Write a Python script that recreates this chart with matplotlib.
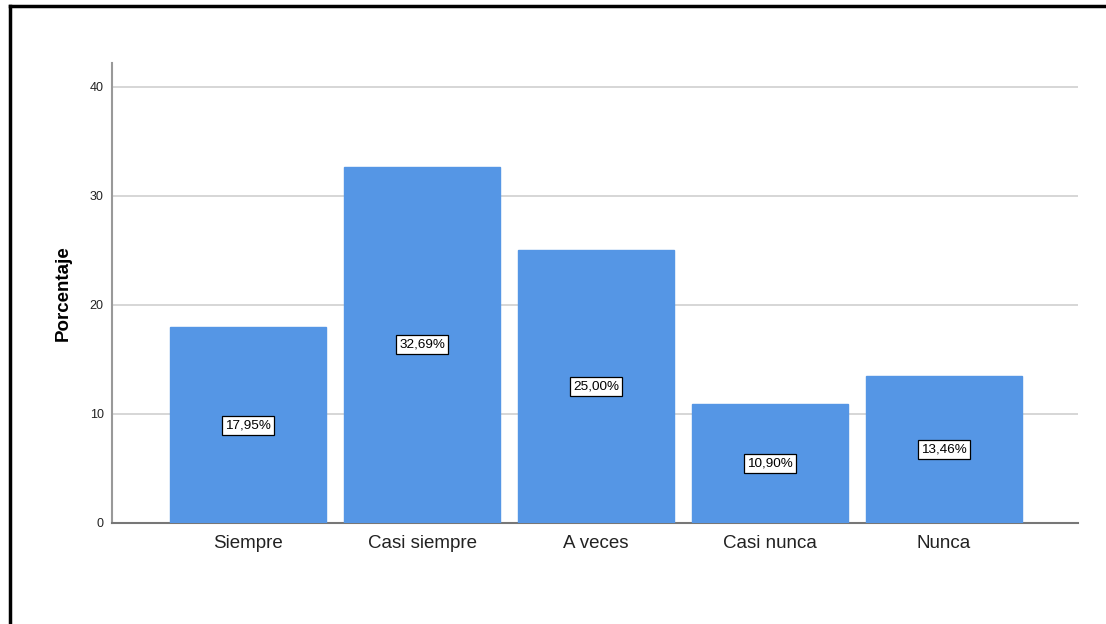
import matplotlib.pyplot as plt
from matplotlib.lines import Line2D

categories = ['Siempre', 'Casi siempre', 'A veces', 'Casi nunca', 'Nunca']
percentages = [17.95, 32.69, 25.00, 10.90, 13.46]
y_ticks = [0, 10, 20, 30, 40]

plt.rcParams['font.family'] = ['Liberation Sans', 'DejaVu Sans']

fig = plt.figure(figsize=(11.06, 6.24), dpi=100)
ax = fig.add_axes([0.1013, 0.1619, 0.8734, 0.7372])

x = range(len(categories))
ax.bar(x, percentages, width=0.897, color='#5596e5', edgecolor='#5596e5', zorder=3)

# value labels in the middle of each bar
for xi, p in zip(x, percentages):
    ax.text(xi, p / 2, f"{p:.2f}".replace('.', ',') + '%', ha='center', va='center',
            fontsize=9.7, zorder=4,
            bbox=dict(boxstyle='square,pad=0.25', facecolor='white', edgecolor='black', linewidth=0.9))

ax.set_xlim(-0.782, 4.77)
ax.set_ylim(0, 42.2)
ax.set_yticks(y_ticks)
ax.set_xticks(list(x))
ax.set_xticklabels(categories, fontsize=13.5, color='#222222')
ax.tick_params(axis='y', length=0, labelsize=9, pad=6, labelcolor='#222222')
ax.tick_params(axis='x', length=0, pad=9)
ax.grid(axis='y', color='#d0d0d0', linewidth=1.2, zorder=0)
ax.set_ylabel('Porcentaje', fontsize=13.5, fontweight='bold', labelpad=13)

for s in ['top', 'right']:
    ax.spines[s].set_visible(False)
ax.spines['left'].set_color('#999999')
ax.spines['left'].set_linewidth(1.5)
ax.spines['bottom'].set_color('#777777')
ax.spines['bottom'].set_linewidth(1.5)

# frame lines along left and top edges
fig.add_artist(Line2D([9.5 / 1106, 9.5 / 1106], [0, 1 - 6 / 624], color='black', linewidth=2.5, transform=fig.transFigure))
fig.add_artist(Line2D([9.5 / 1106, 1], [1 - 6 / 624, 1 - 6 / 624], color='black', linewidth=2.5, transform=fig.transFigure))

fig.savefig('out.png', dpi=100)
